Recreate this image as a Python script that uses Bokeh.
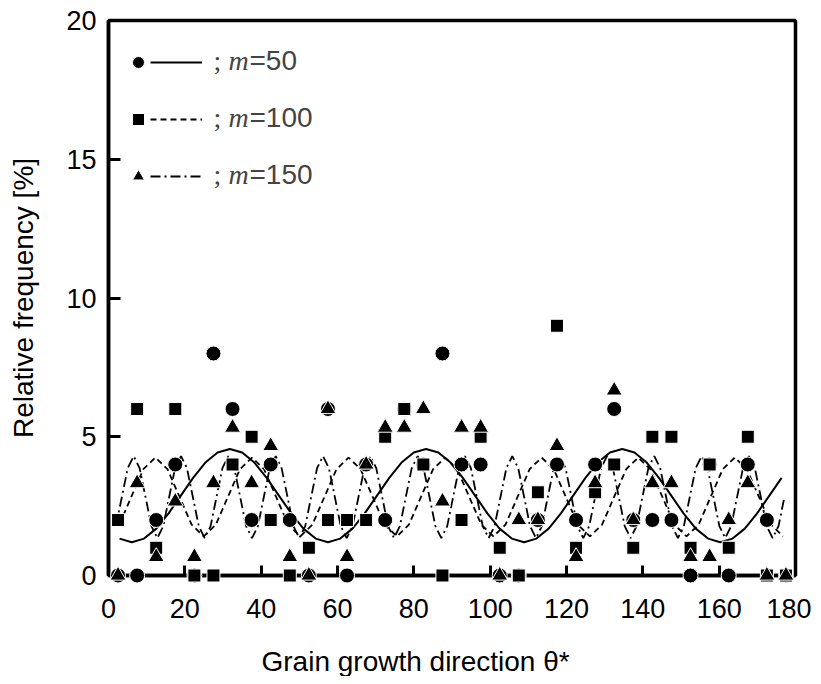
import numpy as np
from bokeh.plotting import figure
from bokeh.models import Range1d, Legend, LegendItem, Label, FixedTicker, Title
from bokeh.embed import file_html
from bokeh.resources import INLINE

# ---------------- data ----------------
theta = [2.5, 7.5, 12.5, 17.5, 22.5, 27.5, 32.5, 37.5, 42.5, 47.5, 52.5, 57.5,
         62.5, 67.5, 72.5, 77.5, 82.5, 87.5, 92.5, 97.5, 102.5, 107.5, 112.5, 117.5,
         122.5, 127.5, 132.5, 137.5, 142.5, 147.5, 152.5, 157.5, 162.5, 167.5, 172.5, 177.5]

freq_m50 = [0, 0, 2, 4, 0, 8, 6, 2, 4, 2, 0, 6,
            0, 4, 2, 6, 4, 8, 4, 4, 0, 0, 2, 4,
            2, 4, 6, 2, 2, 2, 0, 4, 0, 4, 2, 0]

freq_m100 = [2, 6, 1, 6, 0, 0, 4, 5, 2, 0, 1, 2,
             2, 2, 5, 6, 4, 0, 2, 5, 1, 0, 3, 9,
             1, 3, 4, 1, 5, 5, 1, 4, 1, 5, 0, 0]

freq_m150 = [0, 3.33, 0.67, 2.67, 0.67, 3.33, 5.33, 3.33, 4.67, 0.67, 0, 6,
             0.67, 4, 5.33, 5.33, 6, 2.67, 5.33, 5.33, 0, 2, 2, 4.67,
             0.67, 3.33, 6.67, 2, 3.33, 3.33, 0.67, 0.67, 2, 3.33, 0, 0]

# fitted curves, sampled at evenly spaced angles between the given limits
fit_m50_lim = (2.89, 176.36)
fit_m50 = [1.33, 1.20, 1.33, 1.69, 2.24, 2.88, 3.52, 4.07, 4.43,
           4.56, 4.43, 4.07, 3.52, 2.88, 2.24, 1.69, 1.33, 1.20, 1.33, 1.69, 2.24, 2.88, 3.52, 4.07, 4.43,
           4.56, 4.43, 4.07, 3.52, 2.88, 2.24, 1.69, 1.33, 1.20, 1.33, 1.69, 2.24, 2.88, 3.52, 4.07, 4.43,
           4.56, 4.43, 4.07, 3.52, 2.88, 2.24, 1.69, 1.33, 1.20, 1.33, 1.69, 2.24, 2.88, 3.52]

fit_m100_lim = (2.81, 176.75)
fit_m100 = [1.83, 2.83, 3.83,
            4.25, 3.83, 2.83, 1.83, 1.41, 1.83, 2.83, 3.83,
            4.25, 3.83, 2.83, 1.83, 1.41, 1.83, 2.83, 3.83,
            4.25, 3.83, 2.83, 1.83, 1.41, 1.83, 2.83, 3.83,
            4.25, 3.83, 2.83, 1.83, 1.41, 1.83, 2.83, 3.83,
            4.25, 3.83, 2.83, 1.83, 1.41, 1.83, 2.83, 3.83,
            4.25, 3.83, 2.83, 1.83, 1.41, 1.83, 2.83, 3.83,
            4.25, 3.83, 2.83, 1.83, 1.41]

fit_m150_lim = (1.95, 177.10)
fit_m150 = [1.78, 2.83, 3.87,
            4.30, 3.87, 2.83, 1.78, 1.35, 1.78, 2.83, 3.87,
            4.30, 3.87, 2.83, 1.78, 1.35, 1.78, 2.83, 3.87,
            4.30, 3.87, 2.83, 1.78, 1.35, 1.78, 2.83, 3.87,
            4.30, 3.87, 2.83, 1.78, 1.35, 1.78, 2.83, 3.87,
            4.30, 3.87, 2.83, 1.78, 1.35, 1.78, 2.83, 3.87,
            4.30, 3.87, 2.83, 1.78, 1.35, 1.78, 2.83, 3.87,
            4.30, 3.87, 2.83, 1.78, 1.35, 1.78, 2.83, 3.87,
            4.30, 3.87, 2.83, 1.78, 1.35, 1.78, 2.83, 3.87,
            4.30, 3.87, 2.83, 1.78, 1.35, 1.78, 2.83, 3.87,
            4.30, 3.87, 2.83, 1.78, 1.35, 1.78, 2.83, 3.87,
            4.30, 3.87, 2.83, 1.78, 1.35, 1.78, 2.83, 3.87,
            4.30, 3.87, 2.83, 1.78, 1.35, 1.78, 2.83, 3.87,
            4.30, 3.87, 2.83, 1.78, 1.35, 1.78, 2.83, 3.87,
            4.30, 3.87, 2.83, 1.78, 1.35, 1.78, 2.83]

x_ticks = [0, 20, 40, 60, 80, 100, 120, 140, 160, 180]
y_ticks = [0, 5, 10, 15, 20]
series_labels = ["50", "100", "150"]

# ---------------- figure ----------------
SANS = "Liberation Sans"
SERIF = "Liberation Serif"
TICK_FS = "27px"
LAB_FS = "28px"

p = figure(width=811, height=676, x_range=Range1d(0, 180), y_range=Range1d(0, 20),
           output_backend="svg", toolbar_location=None,
           min_border_left=108, min_border_right=16, min_border_top=20, min_border_bottom=101)
p.background_fill_color = "white"
p.border_fill_color = "white"
p.grid.visible = False
p.outline_line_color = "black"
p.outline_line_width = 3.5
p.outline_line_alpha = 1

for ax, ticks in ((p.xaxis, x_ticks), (p.yaxis, y_ticks)):
    ax.ticker = FixedTicker(ticks=ticks)
    ax.minor_tick_line_color = None
    ax.major_tick_out = 0
    ax.major_tick_line_width = 3
    ax.axis_line_width = 3.5
    ax.major_label_text_font = SANS
    ax.major_label_text_font_size = TICK_FS
    ax.major_label_text_color = "black"
    ax.axis_label_text_font = SANS
    ax.axis_label_text_font_size = LAB_FS
    ax.axis_label_text_font_style = "normal"
    ax.axis_label_text_color = "black"

p.xaxis.major_tick_in = 10
p.yaxis.major_tick_in = 12
p.xaxis.major_label_standoff = 23
p.yaxis.major_label_standoff = 12
p.yaxis.axis_label_standoff = 24
p.yaxis.axis_label = "Relative frequency [%]"

# spacer between the tick labels and the x-axis title
p.add_layout(Title(text=" ", text_font_size="1px", standoff=20), "below")
# x-axis title, placed a little left of centre as in the original
p.add_layout(Title(text="Grain growth direction \u03b8*", align="left", offset=153,
                   standoff=0, text_font=SANS, text_font_size=LAB_FS,
                   text_font_style="normal", text_color="black"), "below")

# fitted curves
l50 = p.line(np.linspace(*fit_m50_lim, len(fit_m50)), fit_m50, line_color="black", line_width=2)
l100 = p.line(np.linspace(*fit_m100_lim, len(fit_m100)), fit_m100, line_color="black",
              line_width=1.8, line_dash="6 4")
l150 = p.line(np.linspace(*fit_m150_lim, len(fit_m150)), fit_m150, line_color="black",
              line_width=1.8, line_dash="10 4 2 4")

# measured frequencies
s50 = p.scatter(theta, freq_m50, marker="circle", size=15, fill_color="black",
                line_color="white", line_width=1)
s100 = p.scatter(theta, freq_m100, marker="square", size=13, fill_color="black",
                 line_color="white", line_width=1)
s150 = p.scatter(theta, freq_m150, marker="triangle", size=16, fill_color="black",
                 line_color="white", line_width=1)
for r in (s50, s100, s150):
    r.level = "overlay"

# legend: markers column and line column
common = dict(glyph_height=30, spacing=27, padding=0, margin=0, border_line_alpha=0,
              background_fill_alpha=0, label_text_font_size="1px", label_height=30,
              label_standoff=0, label_width=1)
legA = Legend(items=[LegendItem(label=" ", renderers=[r]) for r in (s50, s100, s150)],
              location=(15, 384), glyph_width=30, **common)
legB = Legend(items=[LegendItem(label=" ", renderers=[r]) for r in (l50, l100, l150)],
              location=(42, 384), glyph_width=52, **common)
p.add_layout(legA)
p.add_layout(legB)

row_y = [18.57, 16.52, 14.46]
for yy, lab in zip(row_y, series_labels):
    p.add_layout(Label(x=27.5, y=yy, text=";", text_font=SERIF, text_font_size=LAB_FS,
                       text_baseline="middle"))
    p.add_layout(Label(x=27.5, y=yy, x_offset=15, text="m", text_font=SERIF,
                       text_font_style="italic", text_font_size=LAB_FS, text_baseline="middle"))
    p.add_layout(Label(x=27.5, y=yy, x_offset=36, text="=" + lab, text_font=SANS,
                       text_font_size=LAB_FS, text_baseline="middle"))

open("out.html", "w").write(file_html(p, INLINE))
